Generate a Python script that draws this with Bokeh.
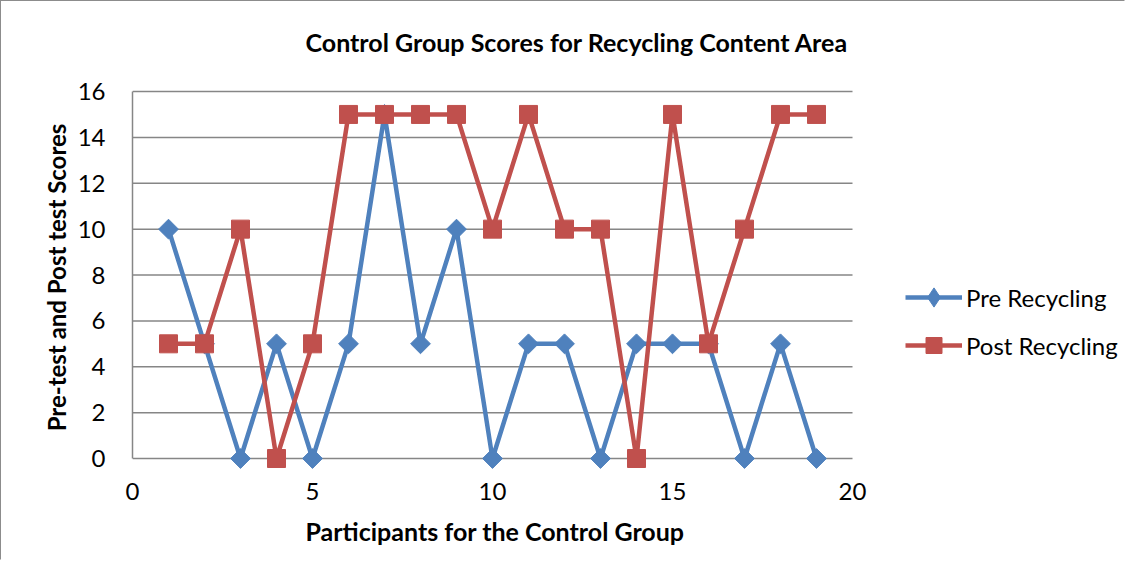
from bokeh.plotting import figure
from bokeh.models import Range1d, Legend, LegendItem, FixedTicker, Title
from bokeh.embed import file_html
from bokeh.resources import INLINE
import math

participants = list(range(1, 20))
pre_recycling = [10, 5, 0, 5, 0, 5, 15, 5, 10, 0, 5, 5, 0, 5, 5, 5, 0, 5, 0]
post_recycling = [5, 5, 10, 0, 5, 15, 15, 15, 15, 10, 15, 10, 10, 0, 15, 5, 10, 15, 15]
x_ticks = [0, 5, 10, 15, 20]
y_ticks = [0, 2, 4, 6, 8, 10, 12, 14, 16]
series_names = ["Pre Recycling", "Post Recycling"]
title_text = "Control Group Scores for Recycling Content Area"
x_label = "Participants for the Control Group"
y_label = "Pre-test and Post test Scores"

FONT = "Lato"
BLUE = "#4F81BD"
RED = "#C0504D"
GRID = "#868686"

# layout (pixels in the element)
X0_PX, X20_PX = 132, 852          # x = 0 and x = 20
Y0_PX, Y16_PX = 458, 91           # y = 0 and y = 16
PX_X = (X20_PX - X0_PX) / 20.0
PX_Y = (Y0_PX - Y16_PX) / 16.0
W, H = 1125, 560                  # canvas
MB_LEFT, MB_TOP, MB_BOTTOM = 131, 77, 85
FRAME_RIGHT = 1 + W
FRAME_TOP = 1 + MB_TOP
FRAME_BOTTOM = 1 + H - MB_BOTTOM

x_end = (FRAME_RIGHT - X0_PX) / PX_X
y_end = 16 + (Y16_PX - FRAME_TOP) / PX_Y
y_start = -(FRAME_BOTTOM - Y0_PX) / PX_Y

p = figure(width=W, height=H, output_backend="svg", toolbar_location=None,
           x_range=Range1d(0, x_end), y_range=Range1d(y_start, y_end),
           min_border_left=MB_LEFT, min_border_right=0,
           min_border_top=MB_TOP, min_border_bottom=MB_BOTTOM)
p.styles = {"border-left": "1px solid #8c8c8c", "border-top": "1px solid #8c8c8c",
            "border-right": "1px solid white", "border-bottom": "1px solid white"}
p.outline_line_color = None
p.background_fill_color = "white"
p.border_fill_color = "white"

# title (left aligned with an offset so that it sits where the reference has it)
p.title.text = title_text
p.title.align = "left"
p.title.offset = 305 - X0_PX
p.title.standoff = 43
p.title.text_font = FONT
p.title.text_font_size = "25px"
p.title.text_font_style = "bold"
p.title.text_color = "black"

# x axis
p.xaxis.ticker = FixedTicker(ticks=x_ticks)
p.xaxis.axis_line_color = None
p.xaxis.major_tick_line_color = None
p.xaxis.minor_tick_line_color = None
p.xaxis.major_label_text_font = FONT
p.xaxis.major_label_text_font_size = "24px"
p.xaxis.major_label_text_color = "black"
p.xaxis.major_label_standoff = 0

xt = Title(text=x_label, align="left", offset=305 - X0_PX, standoff=22,
           text_font=FONT, text_font_size="25px", text_font_style="bold",
           text_color="black")
p.add_layout(xt, "below")

# y axis
p.yaxis.ticker = FixedTicker(ticks=y_ticks)
p.yaxis.bounds = (0, 16)
p.yaxis.axis_line_color = GRID
p.yaxis.axis_line_width = 1.5
p.yaxis.major_tick_line_color = None
p.yaxis.minor_tick_line_color = None
p.yaxis.major_label_text_font = FONT
p.yaxis.major_label_text_font_size = "24px"
p.yaxis.major_label_text_color = "black"
p.yaxis.major_label_standoff = 21
p.yaxis.axis_label = y_label
p.yaxis.axis_label_text_font = FONT
p.yaxis.axis_label_text_font_size = "24px"
p.yaxis.axis_label_text_font_style = "bold"
p.yaxis.axis_label_text_color = "black"
p.yaxis.axis_label_standoff = 4

p.xgrid.visible = False
p.ygrid.visible = False

# horizontal gridlines limited to the x range 0..20
p.segment(x0=[x_ticks[0]] * len(y_ticks), x1=[x_ticks[-1]] * len(y_ticks),
          y0=y_ticks, y1=y_ticks, line_color=GRID, line_width=1.5)

l1 = p.line(participants, pre_recycling, line_color=BLUE, line_width=4.5, line_join="round")
# small diamonds hidden inside the rotated squares: give the legend its diamond shape
d1 = p.scatter(participants, pre_recycling, marker="diamond", size=12,
               fill_color=BLUE, line_color=BLUE)
s1 = p.scatter(participants, pre_recycling, marker="square", angle=math.pi / 4, size=14,
               fill_color=BLUE, line_color=BLUE)
l2 = p.line(participants, post_recycling, line_color=RED, line_width=4.5, line_join="round")
s2 = p.scatter(participants, post_recycling, marker="square", size=18,
               fill_color=RED, line_color=RED)


def make_legend(name, rens, gh, cy):
    lg = Legend(items=[LegendItem(label=name, renderers=rens)],
                location=(905 - X0_PX, FRAME_BOTTOM - cy - gh / 2),
                glyph_width=57, glyph_height=gh, label_height=gh,
                label_standoff=4, padding=0, margin=0, spacing=0,
                border_line_color=None, background_fill_alpha=0,
                label_text_font=FONT, label_text_font_size="24px",
                label_text_color="black")
    p.add_layout(lg)


make_legend(series_names[0], [l1, d1], 48, 297)
make_legend(series_names[1], [l2, s2], 40, 345)

open("out.html", "w").write(file_html(p, INLINE))
